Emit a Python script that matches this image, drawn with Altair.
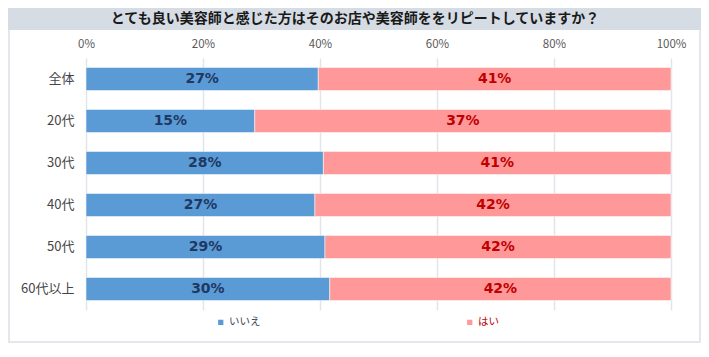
import altair as alt
import pandas as pd

title_text = "とても良い美容師と感じた方はそのお店や美容師ををリピートしていますか？"
categories = ["全体", "20代", "30代", "40代", "50代", "60代以上"]
answers = ["いいえ", "はい"]
no_values = [27, 15, 28, 27, 29, 30]
yes_values = [41, 37, 41, 42, 42, 42]
bar_colors = ["#5b9bd5", "#ff9999"]

rows = []
for c, n, y in zip(categories, no_values, yes_values):
    rows.append({"cat": c, "answer": answers[0], "order": 0, "value": n})
    rows.append({"cat": c, "answer": answers[1], "order": 1, "value": y})
df = pd.DataFrame(rows)

FONT = "Noto Sans CJK JP"

base = alt.Chart(df).transform_joinaggregate(
    total="sum(value)", groupby=["cat"]
).transform_window(
    cum="sum(value)", groupby=["cat"], sort=[alt.SortField("order", order="ascending")], frame=[None, 0]
).transform_calculate(
    start="(datum.cum - datum.value) / datum.total",
    end="datum.cum / datum.total",
    mid="(2*datum.cum - datum.value) / (2*datum.total)",
    label="datum.value + '%'",
)

yenc = alt.Y(
    "cat:N",
    sort=categories,
    scale=alt.Scale(paddingInner=0.45, paddingOuter=0.225),
    axis=alt.Axis(title=None, ticks=False, domain=False, labelFontSize=13,
                  labelColor="#454545", labelPadding=12, labelFont=FONT),
)

bars = base.mark_bar(stroke="white", strokeOpacity=0.5, strokeWidth=1).encode(
    x=alt.X(
        "start:Q",
        scale=alt.Scale(domain=[0, 1], nice=False),
        axis=alt.Axis(orient="top", format="%", values=[0, 0.2, 0.4, 0.6, 0.8, 1.0],
                      title=None, ticks=False, domain=False, labelFontSize=11.5,
                      labelColor="#595959", labelPadding=9, labelFont=FONT,
                      labelFlush=False, gridColor="#e1e5eb", gridWidth=1.5),
    ),
    x2="end:Q",
    y=yenc,
    color=alt.Color(
        "answer:N",
        scale=alt.Scale(domain=answers, range=bar_colors),
        legend=alt.Legend(
            title=None, orient="none", direction="horizontal", legendX=129.5, legendY=259,
            symbolType="square", symbolSize=28, symbolStrokeWidth=0, labelFontSize=10.5,
            labelFont=FONT, columnPadding=204, labelOffset=3, padding=0,
            labelColor={"expr": "datum.label == 'はい' ? '#c00000' : '#3b4656'"},
        ),
    ),
)

texts = base.mark_text(fontSize=14, fontWeight="bold", font="DejaVu Sans").encode(
    x="mid:Q",
    y=alt.Y("cat:N", sort=categories),
    text="label:N",
    color=alt.condition(alt.datum.answer == "いいえ", alt.value("#1f3864"), alt.value("#c00000")),
)

deco_df = pd.DataFrame({"t": [title_text]})
band = alt.Chart(deco_df).mark_rect(fill="#d6dce4").encode(
    x=alt.value(-78), x2=alt.value(615), y=alt.value(-50), y2=alt.value(-28)
)
frame = alt.Chart(deco_df).mark_rect(fill=None, stroke="#e4e8ed", strokeWidth=2).encode(
    x=alt.value(-77), x2=alt.value(614), y=alt.value(-49), y2=alt.value(284)
)
title = alt.Chart(deco_df).mark_text(fontSize=14, fontWeight="bold", font=FONT, color="#1a1a1a").encode(
    x=alt.value(269), y=alt.value(-39), text="t:N"
)

chart = alt.layer(frame, band, title, bars, texts).properties(
    width=585, height=252,
    autosize=alt.AutoSizeParams(type="none"),
    padding={"left": 78, "top": 50, "right": 30, "bottom": 33},
).configure_view(stroke=None)

chart.save("out.html", embed_options={"renderer": "svg", "actions": False})
